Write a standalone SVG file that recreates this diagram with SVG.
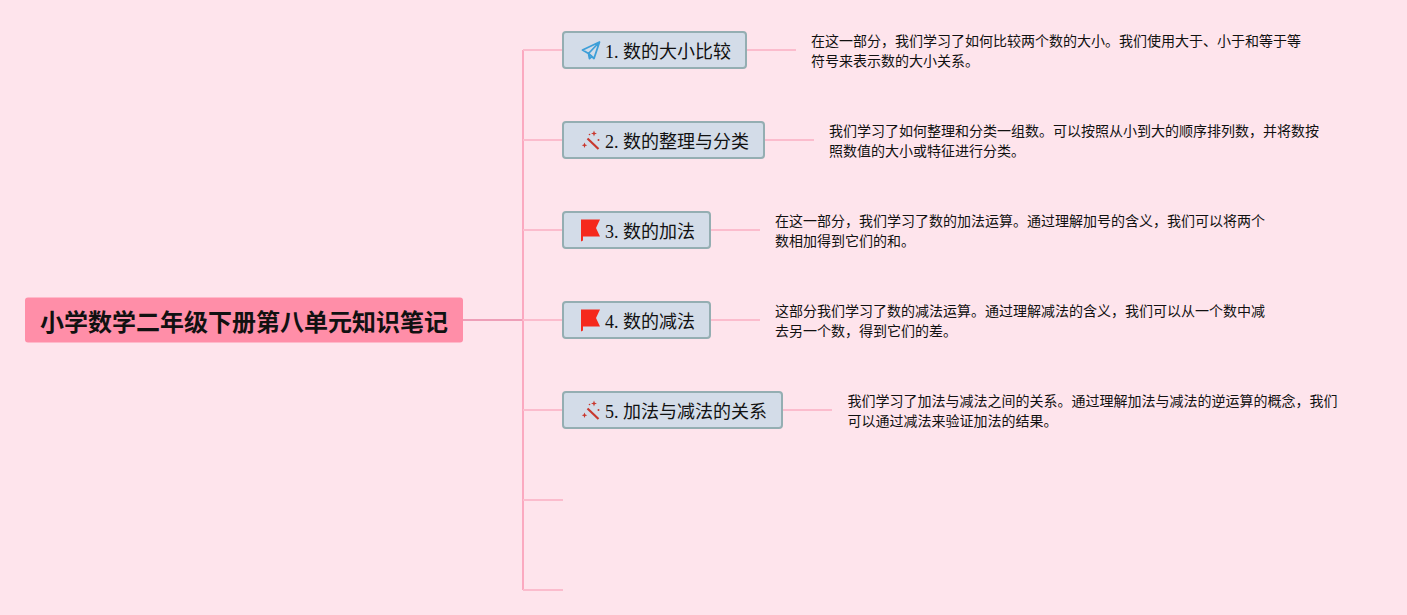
<svg xmlns="http://www.w3.org/2000/svg" width="1407" height="615" viewBox="0 0 1407 615">
<style>
text{font-family:"Liberation Serif","Noto Sans CJK SC",serif;fill:#111}
.t{font-size:18px}
.d{font-size:14px;font-family:"Liberation Sans","Noto Sans CJK SC",sans-serif}
.n{fill:#d3dce8;stroke:#94aeb2;stroke-width:2}
.c{fill:none;stroke:#fbbccd;stroke-width:2}
.f{fill:#f5291c}
.w{fill:#c8372d}
.ws{stroke:#c8372d;stroke-width:2.200;fill:none}
</style>
<defs>
<g id="flag"><path class="f" d="M0 0H19L15 8.500 19 17H2V21L0 22Z"/></g>
<g id="wand"><path class="ws" d="M4.500 6.500L15.500 17"/><path class="w" d="M11 -1.500l.8 2.200 2.200.8-2.200.8-.8 2.200-.8-2.200-2.200-.8 2.200-.8zM1.500 10.500l.8 2 2 .8-2 .8-.8 2-.8-2-2-.8 2-.8z"/><circle class="w" cx="15.500" cy="8" r="1"/><circle class="w" cx="6.500" cy="2.500" r=".8"/></g>
</defs>
<rect width="1407" height="615" fill="#fee4ec"/>
<g id="connectors">
<path d="M463 320H523" fill="none" stroke="#ee9fb8" stroke-width="2"/>
<path d="M523 50V590" fill="none" stroke="#fba9c0" stroke-width="2"/>
<path class="c" d="M523 50H563M523 140H563M523 230H563M523 320H563M523 410H563M523 500H563M523 590H563"/>
<path class="c" d="M746 50H796M764 140H814M710 230H760M710 320H760M782 410H832"/>
</g>
<g id="root">
<rect x="25" y="297.500" width="438" height="45" rx="3" fill="#ff8ea8"/>
<text x="244" y="330.500" text-anchor="middle" style="font-family:'Liberation Sans','Noto Sans CJK SC',sans-serif;font-size:24px;font-weight:700">小学数学二年级下册第八单元知识笔记</text>
</g>
<g id="node1">
<rect class="n" x="563" y="32" width="183" height="36" rx="3"/>
<path d="M599.500 42L582.500 50 588.500 53.500 594 58.500ZM599.500 42L588.500 53.500 589.500 58.500 592.500 56" fill="none" stroke="#3d9fd8" stroke-width="1.800" stroke-linejoin="round"/>
<text class="t" x="605" y="58">1. 数的大小比较</text>
</g>
<g id="desc1">
<text class="d" x="811" y="46">在这一部分，我们学习了如何比较两个数的大小。我们使用大于、小于和等于等</text>
<text class="d" x="811" y="66">符号来表示数的大小关系。</text>
</g>
<g id="node2">
<rect class="n" x="563" y="122" width="201" height="36" rx="3"/>
<use href="#wand" x="583" y="132"/>
<text class="t" x="605" y="148">2. 数的整理与分类</text>
</g>
<g id="desc2">
<text class="d" x="829" y="136">我们学习了如何整理和分类一组数。可以按照从小到大的顺序排列数，并将数按</text>
<text class="d" x="829" y="156">照数值的大小或特征进行分类。</text>
</g>
<g id="node3">
<rect class="n" x="563" y="212" width="147" height="36" rx="3"/>
<use href="#flag" x="581" y="219.500"/>
<text class="t" x="605" y="238">3. 数的加法</text>
</g>
<g id="desc3">
<text class="d" x="775" y="226">在这一部分，我们学习了数的加法运算。通过理解加号的含义，我们可以将两个</text>
<text class="d" x="775" y="246">数相加得到它们的和。</text>
</g>
<g id="node4">
<rect class="n" x="563" y="302" width="147" height="36" rx="3"/>
<use href="#flag" x="581" y="309.500"/>
<text class="t" x="605" y="328">4. 数的减法</text>
</g>
<g id="desc4">
<text class="d" x="775" y="316">这部分我们学习了数的减法运算。通过理解减法的含义，我们可以从一个数中减</text>
<text class="d" x="775" y="336">去另一个数，得到它们的差。</text>
</g>
<g id="node5">
<rect class="n" x="563" y="392" width="219" height="36" rx="3"/>
<use href="#wand" x="583" y="402"/>
<text class="t" x="605" y="418">5. 加法与减法的关系</text>
</g>
<g id="desc5">
<text class="d" x="847.500" y="406">我们学习了加法与减法之间的关系。通过理解加法与减法的逆运算的概念，我们</text>
<text class="d" x="847.500" y="426">可以通过减法来验证加法的结果。</text>
</g>
</svg>
